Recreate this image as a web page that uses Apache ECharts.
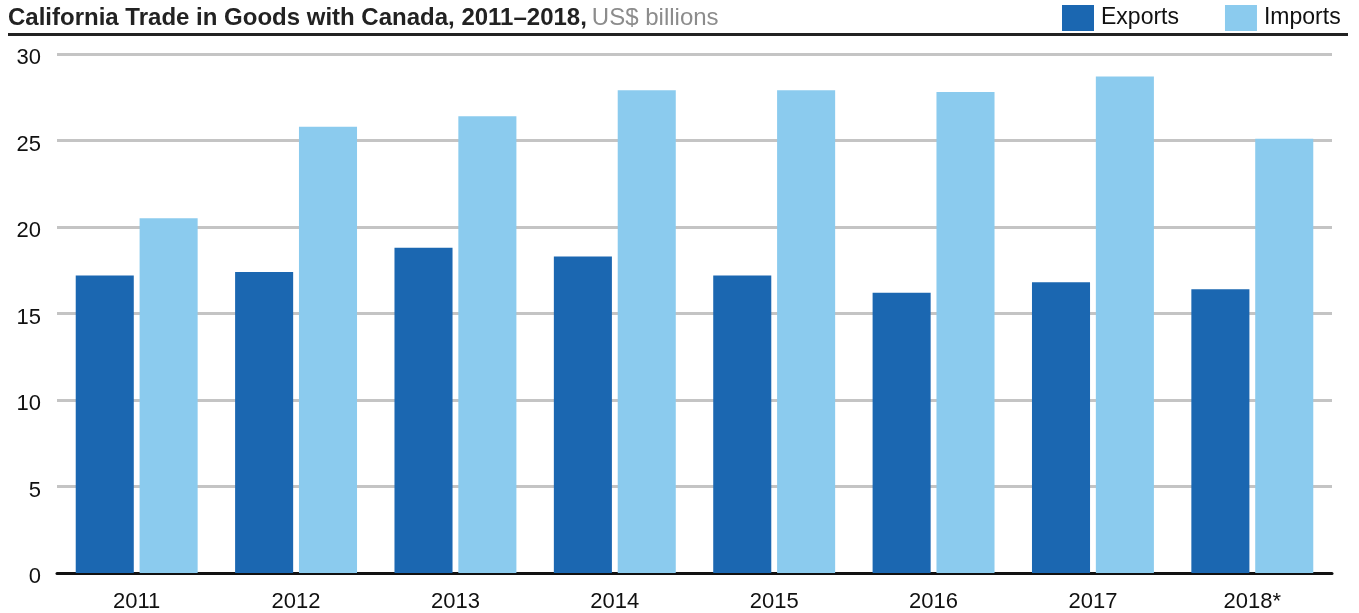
<!DOCTYPE html>
<html>
<head>
<meta charset="utf-8">
<script src="https://cdn.jsdelivr.net/npm/echarts@6/dist/echarts.min.js"></script>
<style>
  html, body { margin: 0; padding: 0; background: #fff; }
  #chart { width: 1359px; height: 613px; }
</style>
</head>
<body>
<div id="chart"></div>
<script>
// Datos (miles de millones de USD)
const years = ['2011', '2012', '2013', '2014', '2015', '2016', '2017', '2018*'];
const exportsData = [17.2, 17.4, 18.8, 18.3, 17.2, 16.2, 16.8, 16.4];
const importsData = [20.5, 25.8, 26.4, 27.9, 27.9, 27.8, 28.7, 25.1];
const yTicks = { min: 0, max: 30, interval: 5 };

const chart = echarts.init(document.getElementById('chart'));
const font = "'Liberation Sans', Arial, sans-serif";

const option = {
  animation: false,
  textStyle: { fontFamily: font },
  title: {
    left: 3,
    top: 1,
    text: '{b|California Trade in Goods with Canada, 2011–2018,} {g|US$ billions}',
    textStyle: {
      rich: {
        b: { fontFamily: font, fontWeight: 'bold', fontSize: 24, color: '#222' },
        g: { fontFamily: font, fontWeight: 'normal', fontSize: 24, color: '#8c8c8c' }
      }
    }
  },
  // línea oscura bajo el título
  graphic: [{
    type: 'line',
    shape: { x1: 8, y1: 34.5, x2: 1348, y2: 34.5 },
    style: { stroke: '#222', lineWidth: 3 }
  }],
  legend: {
    left: 1057,
    top: 0,
    itemWidth: 32,
    itemHeight: 26,
    itemGap: 46,
    icon: 'rect',
    data: ['Exports', 'Imports'],
    textStyle: { fontFamily: font, fontSize: 23, color: '#111', padding: [0, 0, 0, 2] }
  },
  grid: { left: 57, right: 27, top: 54, bottom: 40 },
  xAxis: {
    type: 'category',
    data: years,
    axisTick: { show: false },
    axisLine: { lineStyle: { color: '#111', width: 3 } },
    axisLabel: { fontSize: 22, color: '#111', margin: 18, fontFamily: font }
  },
  yAxis: {
    type: 'value',
    min: yTicks.min,
    max: yTicks.max,
    interval: yTicks.interval,
    axisLine: { show: false },
    axisTick: { show: false },
    axisLabel: {
      fontSize: 22, color: '#111', margin: 16, fontFamily: font,
      verticalAlign: 'top', lineHeight: 8
    },
    splitLine: { lineStyle: { color: '#c4c4c4', width: 3 } }
  },
  series: [
    {
      name: 'Exports',
      type: 'bar',
      data: exportsData,
      barGap: '10%',
      barCategoryGap: '23.5%',
      itemStyle: { color: '#1b67b1' }
    },
    {
      name: 'Imports',
      type: 'bar',
      data: importsData,
      itemStyle: { color: '#8bcbee' }
    }
  ]
};

chart.setOption(option);
</script>
</body>
</html>
